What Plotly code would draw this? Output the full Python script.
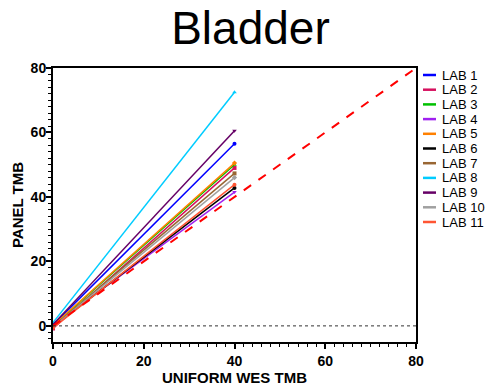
import plotly.graph_objects as go

# Panel TMB vs. uniform WES TMB fits, per lab (bladder)
labs = ["LAB 1", "LAB 2", "LAB 3", "LAB 4", "LAB 5", "LAB 6",
        "LAB 7", "LAB 8", "LAB 9", "LAB 10", "LAB 11"]
wes_tmb = [0, 40]
panel_start = [0.3, -0.8, 0.0, 0.2, 0.1, -0.2, -0.3, 1.0, 0.4, -0.4, -0.6]
panel_end = [56.5, 49.0, 50.0, 41.5, 50.5, 42.8, 47.3, 72.5, 60.5, 46.0, 43.8]
colors = ["#0000FF", "#D6105E", "#00C000", "#A020F0", "#FF8000", "#000000",
          "#996633", "#00CCFF", "#660066", "#A0A0A0", "#FF5533"]
symbols = ["circle", "square", "triangle-up", "triangle-down", "diamond",
           "circle", "square", "triangle-up", "triangle-down", "diamond", "circle"]

identity = [0, 80]

FONT = "Liberation Sans, Arial, sans-serif"

# plot area in pixels (used to place the legend block in paper coords)
W, H = 493, 388
L, R, T, B = 53, 77, 68, 46
pw, ph = W - L - R, H - T - B

fig = go.Figure()
for name, y0, y1, c, s in zip(labs, panel_start, panel_end, colors, symbols):
    fig.add_trace(go.Scatter(
        x=wes_tmb, y=[y0, y1], mode="lines+markers", name=name,
        line=dict(color=c, width=1.5),
        marker=dict(color=c, size=4, symbol=s),
        showlegend=False,
    ))

# identity line
fig.add_trace(go.Scatter(
    x=identity, y=identity, mode="lines", showlegend=False,
    line=dict(color="#FF0000", width=2, dash="dash"),
))
# zero reference
fig.add_trace(go.Scatter(
    x=identity, y=[0, 0], mode="lines", showlegend=False,
    line=dict(color="#333333", width=1, dash="dot"),
))

# compact legend block to the right of the frame
def px_x(px):
    return (px - L) / pw

def px_y(py):
    return (H - B - py) / ph

shapes, annotations = [], []
for i, (name, c) in enumerate(zip(labs, colors)):
    yc = 75 + i * 14.7
    shapes.append(dict(type="line", xref="paper", yref="paper",
                       x0=px_x(423), x1=px_x(436), y0=px_y(yc), y1=px_y(yc),
                       line=dict(color=c, width=2.5)))
    annotations.append(dict(text=name, xref="paper", yref="paper",
                            x=px_x(441), y=px_y(yc), xanchor="left", yanchor="middle",
                            showarrow=False, borderpad=0,
                            font=dict(family=FONT, size=13, color="black")))

tick_font = dict(family=FONT, size=14, color="black", weight="bold")
title_font = dict(family=FONT, size=15, color="black", weight="bold")

fig.update_layout(
    width=W, height=H,
    margin=dict(l=L, r=R, t=T, b=B, autoexpand=False),
    plot_bgcolor="white", paper_bgcolor="white",
    title=dict(text="Bladder", x=0.508, xanchor="center", xref="container",
               y=1 - 28 / H, yanchor="middle", yref="container",
               font=dict(family=FONT, size=46, color="black")),
    showlegend=False,
    shapes=shapes, annotations=annotations,
    xaxis=dict(range=[0, 80], dtick=20, tick0=0, showgrid=False, zeroline=False,
               showline=True, linecolor="black", linewidth=2, mirror=True,
               ticks="outside", ticklen=5, tickwidth=2, tickcolor="black",
               minor=dict(dtick=2, ticks="outside", ticklen=3, tickwidth=1, tickcolor="black"),
               tickfont=tick_font,
               title=dict(text="UNIFORM WES TMB", font=title_font, standoff=4)),
    yaxis=dict(range=[-5, 80], dtick=20, tick0=0, showgrid=False, zeroline=False,
               showline=True, linecolor="black", linewidth=2, mirror=True,
               ticks="outside", ticklen=5, tickwidth=2, tickcolor="black",
               ticklabelstandoff=-3,
               minor=dict(dtick=2, tick0=0, ticks="outside", ticklen=3, tickwidth=1, tickcolor="black"),
               tickfont=tick_font,
               title=dict(text="PANEL TMB", font=title_font, standoff=3)),
)

fig.write_html("out.html")
